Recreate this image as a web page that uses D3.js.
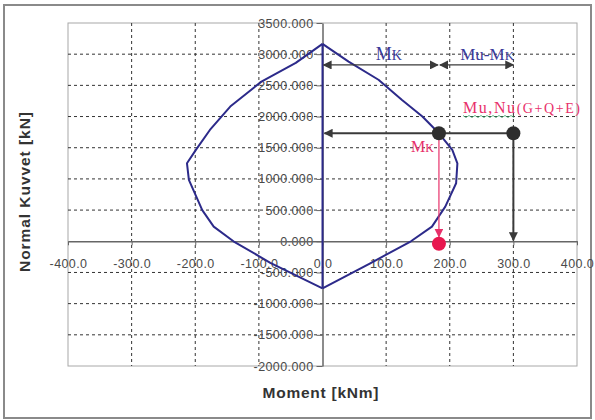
<!DOCTYPE html>
<html>
<head>
<meta charset="utf-8">
<script src="https://cdn.jsdelivr.net/npm/d3@7"></script>
<style>
  html, body { margin: 0; padding: 0; background: #fff; }
  svg { display: block; font-family: Arial, "Liberation Sans", sans-serif; }
</style>
</head>
<body>
<div id="chart"></div>
<script>
// interaction diagram, moment [kNm] vs normal force [kN]
const rightBranch = [
  [0, 3165], [41, 2880], [88, 2590], [125, 2265], [157, 2000], [183, 1732],
  [204, 1465], [212, 1250], [210, 930], [193, 555], [172, 235], [139, 0],
  [75, -353], [0, -754]
]
const leftBranch = [
  [0, 3165], [-42, 2860], [-96, 2560], [-145, 2160], [-177, 1785], [-199, 1465],
  [-213, 1250], [-210, 985], [-189, 500], [-171, 235], [-140, 0],
  [-82, -345], [0, -754]
]

const xTicks = [-400, -300, -200, -100, 0, 100, 200, 300, 400]
const yTicks = [-2000, -1500, -1000, -500, 0, 500, 1000, 1500, 2000, 2500, 3000, 3500]

// design point and arrows
const Mk = 183
const Mu = 300
const Nu = 1732
const arrowN = 2827
const redDot = [183, -40]

const width = 595, height = 420
const x = d3.scaleLinear().domain([-400, 400]).range([68, 577])
const y = d3.scaleLinear().domain([-2000, 3500]).range([366, 23])

const serif = '"Liberation Serif", "DejaVu Serif", serif'
const sans = 'Arial, "Liberation Sans", sans-serif'

const svg = d3.select('#chart').append('svg').attr('width', width).attr('height', height)

const defs = svg.append('defs')
function marker(id, color, size) {
  defs.append('marker').attr('id', id)
    .attr('viewBox', '0 0 10 10').attr('refX', 9).attr('refY', 5)
    .attr('markerWidth', size).attr('markerHeight', size)
    .attr('markerUnits', 'userSpaceOnUse')
    .attr('orient', 'auto-start-reverse')
    .append('path').attr('d', 'M0,0 L10,5 L0,10 Z').attr('fill', color)
}
marker('arrDark', '#3a3a3a', 9)
marker('arrRed', '#e8306a', 9)

// outer frame
svg.append('rect').attr('x', 4).attr('y', 5).attr('width', 587).attr('height', 413)
  .attr('fill', '#fff').attr('stroke', '#8a8a8a').attr('stroke-width', 2)

// plot border
svg.append('rect').attr('x', x(-400)).attr('y', y(3500))
  .attr('width', x(400) - x(-400)).attr('height', y(-2000) - y(3500))
  .attr('fill', 'none').attr('stroke', '#a8a8a8')

// grid
const grid = svg.append('g').attr('stroke', '#333').attr('stroke-dasharray', '3,3').attr('stroke-width', 1)
xTicks.filter(d => d !== -400 && d !== 400 && d !== 0).forEach(d => {
  grid.append('line').attr('x1', x(d)).attr('x2', x(d)).attr('y1', y(3500)).attr('y2', y(-2000))
})
yTicks.filter(d => d !== -2000 && d !== 3500 && d !== 0).forEach(d => {
  grid.append('line').attr('x1', x(-400)).attr('x2', x(400)).attr('y1', y(d)).attr('y2', y(d))
})

// axes crossing at origin
const yAxis = svg.append('g').attr('transform', `translate(${x(0)},0)`)
  .call(d3.axisLeft(y).tickValues(yTicks).tickFormat(d => d.toFixed(3)).tickSizeInner(6).tickSizeOuter(0).tickPadding(3))
const xAxis = svg.append('g').attr('transform', `translate(0,${y(0)})`)
  .call(d3.axisBottom(x).tickValues(xTicks).tickFormat(d => d.toFixed(1)).tickSizeInner(4).tickSizeOuter(0).tickPadding(14))
;[yAxis, xAxis].forEach(a => {
  a.select('.domain').attr('stroke', '#666').attr('stroke-width', 1.5)
  a.selectAll('.tick line').attr('stroke', '#666')
  a.selectAll('.tick text').attr('fill', '#4a4a4a').style('font-size', '12.5px').style('font-family', sans)
    .style('letter-spacing', '0.4px')
})

// interaction curve
const line = d3.line().x(d => x(d[0])).y(d => y(d[1]))
const curve = svg.append('g').attr('fill', 'none').attr('stroke', '#2c2a8a').attr('stroke-width', 2)
  .attr('stroke-linejoin', 'round')
curve.append('path').attr('d', line(rightBranch))
curve.append('path').attr('d', line(leftBranch))
curve.append('path').attr('d', line([rightBranch[0], rightBranch[rightBranch.length - 1]]))

// dimension arrows Mk / Mu-Mk
const dim = svg.append('g').attr('stroke', '#3a3a3a').attr('stroke-width', 1.3)
dim.append('line').attr('x1', x(0) + 1).attr('x2', x(Mk) - 1).attr('y1', y(arrowN)).attr('y2', y(arrowN))
  .attr('marker-start', 'url(#arrDark)').attr('marker-end', 'url(#arrDark)')
dim.append('line').attr('x1', x(Mk) + 1).attr('x2', x(Mu)).attr('y1', y(arrowN)).attr('y2', y(arrowN))
  .attr('marker-start', 'url(#arrDark)').attr('marker-end', 'url(#arrDark)')

// horizontal and vertical arrows from design point
const lead = svg.append('g').attr('stroke', '#3a3a3a').attr('stroke-width', 2)
lead.append('line').attr('x1', x(Mu)).attr('x2', x(0) + 2).attr('y1', y(Nu)).attr('y2', y(Nu))
  .attr('marker-end', 'url(#arrDark)')
lead.append('line').attr('x1', x(Mu)).attr('x2', x(Mu)).attr('y1', y(Nu)).attr('y2', y(0) - 1)
  .attr('marker-end', 'url(#arrDark)')

// red drop line to Mk
svg.append('line').attr('x1', x(Mk)).attr('x2', x(Mk)).attr('y1', y(Nu)).attr('y2', y(redDot[1]) - 7)
  .attr('stroke', '#e8306a').attr('stroke-width', 1.2).attr('marker-end', 'url(#arrRed)')

// points
svg.append('circle').attr('cx', x(Mk)).attr('cy', y(Nu)).attr('r', 7).attr('fill', '#2e2e2e')
svg.append('circle').attr('cx', x(Mu)).attr('cy', y(Nu)).attr('r', 7).attr('fill', '#2e2e2e')
svg.append('circle').attr('cx', x(redDot[0])).attr('cy', y(redDot[1])).attr('r', 7).attr('fill', '#e8184f')

// labels
function label(parts, xx, yy, color, anchor, len) {
  const el = svg.append('text').attr('x', xx).attr('y', yy).attr('fill', color)
    .attr('text-anchor', anchor || 'start').style('font-family', serif)
  parts.forEach(([t, fs]) => el.append('tspan').style('font-size', fs + 'px').text(t))
  if (len) el.attr('textLength', len).attr('lengthAdjust', 'spacing')
  return el
}
label([['M', 18], ['K', 14]], (x(0) + x(Mk)) / 2 + 8, 60, '#3a3a9a', 'middle')
label([['Mu-M', 17], ['K', 13]], (x(Mk) + x(Mu)) / 2 + 11, 60, '#3a3a9a', 'middle')
label([['M', 16], ['K', 12]], x(Mk) - 5, 152, '#e8306a', 'end')
label([['Mu,Nu', 16], ['(G+Q+E)', 14]], 463, 113, '#e8306a', 'start', 117)

// spell-check squiggle under Mu,Nu
const sq = d3.range(0, 18).map(i => [463 + i * 3, 116 + (i % 2 ? 1.5 : -0.5)])
svg.append('path').attr('d', d3.line()(sq)).attr('fill', 'none').attr('stroke', '#3aa86a').attr('stroke-width', 0.8)

// axis titles
svg.append('text').attr('transform', `translate(30,192) rotate(-90)`)
  .attr('text-anchor', 'middle').attr('fill', '#333')
  .style('font-size', '15.5px').style('font-weight', 'bold')
  .attr('textLength', 160).attr('lengthAdjust', 'spacing')
  .text('Normal Kuvvet [kN]')
svg.append('text').attr('x', 320.5).attr('y', 398).attr('text-anchor', 'middle').attr('fill', '#333')
  .style('font-size', '15.5px').style('font-weight', 'bold')
  .attr('textLength', 116).attr('lengthAdjust', 'spacing')
  .text('Moment [kNm]')
</script>
</body>
</html>
